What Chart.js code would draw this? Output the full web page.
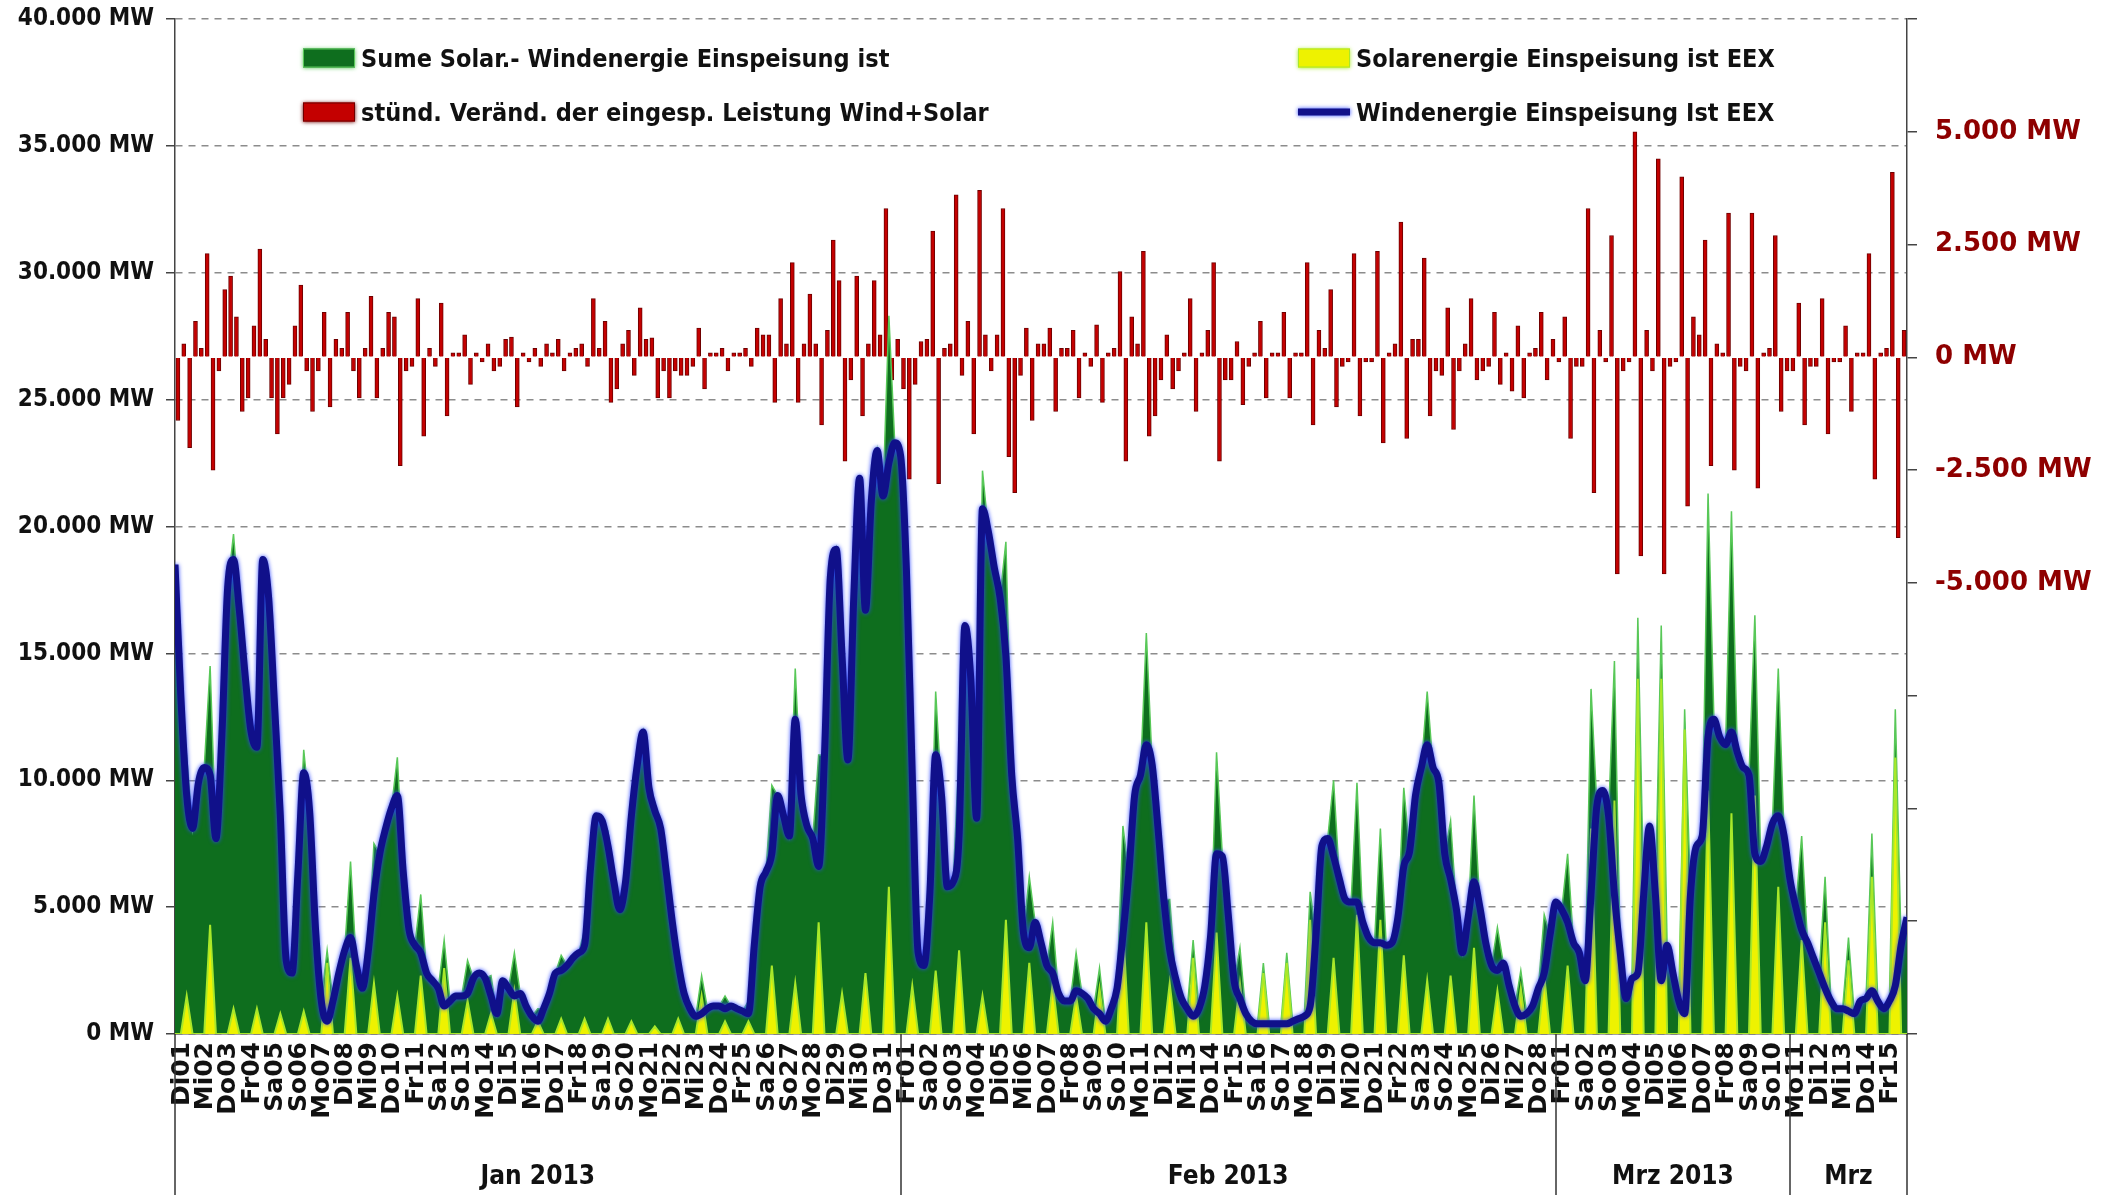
<!DOCTYPE html>
<html lang="de">
<head>
<meta charset="utf-8">
<title>Wind- und Solareinspeisung Jan - Mrz 2013</title>
<script src="https://cdn.jsdelivr.net/npm/chart.js@4.4.0/dist/chart.umd.min.js"></script>
<style>
  html, body { margin: 0; padding: 0; background: #fff; }
  #wrap { position: relative; width: 2114px; height: 1195px; }
  #chart { display: block; }
  .legend-item {
    position: absolute;
    display: flex;
    align-items: center;
    transform: translateY(-50%);
    font: bold 25px "Liberation Sans Narrow", "DejaVu Sans Condensed", "Liberation Sans", sans-serif;
    color: #111;
    white-space: nowrap;
  }
  .legend-box { width: 52px; height: 19px; margin-right: 6px; box-sizing: border-box; }
</style>
</head>
<body>
<div id="wrap">
  <canvas id="chart" width="2114" height="1195"></canvas>
</div>
<script>
// Day labels (x axis), 01.01.2013 - 15.03.2013
const dayLabels = [
    'Di01','Mi02','Do03','Fr04','Sa05','So06','Mo07','Di08','Mi09','Do10','Fr11','Sa12','So13','Mo14','Di15','Mi16',
    'Do17','Fr18','Sa19','So20','Mo21','Di22','Mi23','Do24','Fr25','Sa26','So27','Mo28','Di29','Mi30','Do31',
    'Fr01','Sa02','So03','Mo04','Di05','Mi06','Do07','Fr08','Sa09','So10','Mo11','Di12','Mi13','Do14','Fr15','Sa16',
    'So17','Mo18','Di19','Mi20','Do21','Fr22','Sa23','So24','Mo25','Di26','Mi27','Do28',
    'Fr01','Sa02','So03','Mo04','Di05','Mi06','Do07','Fr08','Sa09','So10','Mo11','Di12','Mi13','Do14','Fr15'
];
const monthLabels = ['Jan 2013', 'Feb 2013', 'Mrz 2013', 'Mrz'];
const monthBounds = [0, 31, 59, 69, 74];   // in days

// Wind feed-in, MW, every 6 hours (00, 06, 12, 18 h) + end point
const windMW = [
    18500,13300,9400,8100,  9900,10500,10200,7700,  11700,17600,18700,16700,  14100,11900,11300,18700,
    17200,13000,8600,2900,  2400,6300,10300,8800,   4200,1300,500,1300,       2400,3300,3800,2700,
    1800,3200,5500,7100,    8100,8900,9400,6400,    4100,3500,3200,2400,      2100,1800,1100,1300,
    1500,1500,1600,2200,    2400,2200,1500,800,     2100,1800,1500,1600,      1100,700,500,1000,
    1600,2400,2500,2700,    3000,3200,3500,6500,    8600,8400,7400,6000,      4900,6000,8600,10600,
    11900,9700,8800,8100,   6300,4400,2800,1600,    1000,700,800,1000,        1100,1100,1000,1100,
    1000,900,800,3500,      5800,6400,7100,9400,    8600,7800,12400,9400,     8200,7700,6600,11000,
    18000,19100,14900,10800, 17200,21900,16700,21000, 23000,21200,22500,23300, 22800,18300,10200,3200,
    2700,5500,11000,9400,   5800,6000,7800,16100,   14000,8500,20700,19800,   18400,17200,14900,10200,
    7700,4000,3400,4400,    3600,2700,2400,1600,    1300,1300,1700,1600,      1400,1000,800,500,
    1000,1800,3900,6300,    9400,10200,11400,10600, 8100,5300,3300,2200,      1400,1000,700,1000,
    1900,3900,7100,7000,    4700,2100,1400,800,     500,400,400,400,          400,400,400,500,
    600,700,1100,3900,      7400,7700,7000,6100,    5300,5200,5200,4400,      3800,3600,3600,3500,
    3600,4600,6600,7200,    9400,10500,11400,10500, 9900,7100,6100,4900,      3200,4600,6000,5000,
    3600,2700,2500,2800,    1900,1100,700,800,      1100,1800,2400,3900,      5200,4900,4400,3600,
    3200,2100,5500,9000,    9600,8600,5500,3200,    1400,2200,2400,5500,      8200,5500,2100,3500,
    2400,1300,800,5500,     7400,7800,11700,12400,  11700,11400,11900,11100,  10500,10200,7100,6800,
    7400,8300,8600,7800,    6100,5000,4100,3600,    3000,2400,1800,1300,      1000,1000,900,800,
    1300,1400,1700,1300,    1000,1300,1900,3500,
    4600
];

// Solar feed-in at midday peak, MW, one value per day
const solarNoonMW = [
    1500,4300,1000,1000,800,900,2800,3000,2000,1500,
    2300,2600,1300,800,1700,500,600,600,600,500,
    300,600,1500,500,500,2700,2000,4400,1600,2400,
    5800,1900,2500,3300,1500,4500,2800,2000,1500,1800,
    4300,4400,2000,3000,4000,2000,2400,2800,4500,3000,
    4700,4500,3100,2100,2300,3400,1700,1800,2300,2700,
    8100,9200,14000,14000,12000,9600,8700,9400,5800,3700,
    4400,2900,6200,10900
];

// Hourly change wind+solar, MW, sampled at 03, 09, 15, 21 h of each day
const changeMW = [
    -1400,300,-2000,800,   200,2300,-2500,-300,   1500,1800,900,-1200,   -900,700,2400,400,
    -900,-1700,-900,-600,  700,1600,-300,-1200,   -300,1000,-1100,400,   200,1000,-300,-900,
    200,1350,-900,200,     1000,900,-2400,-300,   -200,1300,-1750,200,   -200,1200,-1300,100,
    100,500,-600,100,      -100,300,-300,-200,    400,450,-1100,100,     -100,200,-200,300,
    100,400,-300,100,      200,300,-200,1300,     200,800,-1000,-700,    300,600,-400,1100,
    400,430,-900,-300,     -900,-300,-400,-400,   -200,650,-700,100,     100,200,-300,100,
    100,200,-200,650,      500,500,-1000,1300,    300,2100,-1000,300,    1400,300,-1500,600,
    2600,1700,-2300,-500,  1800,-1300,300,1700,   500,3300,-500,400,     -700,-2700,-600,350,
    400,2800,-2800,200,    300,3600,-400,800,     -1700,3700,500,-300,   500,3300,-2200,-3000,
    -400,650,-1400,300,    300,650,-1200,200,     200,600,-900,100,      -200,720,-1000,100,
    200,1900,-2300,900,    300,2350,-1750,-1300,  -500,500,-700,-300,    100,1300,-1200,100,
    600,2100,-2300,-500,   -500,350,-1050,-200,   100,800,-900,100,      100,1000,-900,100,
    100,2100,-1500,600,    200,1500,-1100,-200,   -100,2300,-1300,-100,  -100,2350,-1900,100,
    300,3000,-1800,400,    400,2200,-1300,-300,   -400,1100,-1600,-300,  300,1300,-500,-300,
    -200,1000,-600,100,    -750,700,-900,100,     200,1000,-500,400,     -100,900,-1800,-200,
    -200,3300,-3000,600,   -100,2700,-4800,-300,  -100,5000,-4400,600,   -300,4400,-4800,-200,
    -100,4000,-3300,900,   500,2600,-2400,300,    100,3200,-2500,-200,   -300,3200,-2900,100,
    200,2700,-1200,-300,   -300,1200,-1500,-200,  -200,1300,-1700,-100,  -100,700,-1200,100,
    100,2300,-2700,100,    200,4100,-4000,600
];

const STEPS_PER_DAY = 4;
const narrowFont = '"Liberation Sans Narrow", "DejaVu Sans Condensed", "Liberation Sans", sans-serif';

function formatMW(v) {
    return String(v).replace(/\B(?=(\d{3})+(?!\d))/g, '.') + ' MW';
}

// solar is zero at night: 00, 06 and 18 h, peak at 12 h
const solarMW = [];
solarNoonMW.forEach(p => solarMW.push(0, 0, p, 0));
solarMW.push(0);

const toPoints = arr => arr.map((y, i) => ({ x: i / STEPS_PER_DAY, y: y }));
const windPoints = toPoints(windMW);
const solarPoints = toPoints(solarMW);
const sumPoints = toPoints(windMW.map((w, i) => w + solarMW[i]));
const changePoints = changeMW.map((y, i) => ({ x: (i + 0.5) / STEPS_PER_DAY, y: y }));

// keep the plot top fixed, the tick labels may overhang it
function fixVerticalAxis(width) {
    return s => {
        s.width = width;
        s.paddingTop = 0;
        s.paddingBottom = 0;
    };
}

// glow around the wind line
const glowPlugin = {
    id: 'glow',
    beforeDatasetDraw(chart, args) {
        const ds = chart.data.datasets[args.index];
        if (!ds.glowColor) return;
        chart.ctx.save();
        chart.ctx.shadowColor = ds.glowColor;
        chart.ctx.shadowBlur = 4;
    },
    afterDatasetDraw(chart, args) {
        if (chart.data.datasets[args.index].glowColor) chart.ctx.restore();
    }
};

// month groups under the day labels
const monthPlugin = {
    id: 'months',
    afterDraw(chart) {
        const { ctx, chartArea } = chart;
        const x = chart.scales.x;
        ctx.save();
        ctx.strokeStyle = '#333';
        ctx.lineWidth = 1.5;
        monthBounds.forEach(b => {
            const px = Math.round(x.getPixelForValue(b));
            ctx.beginPath();
            ctx.moveTo(px, chartArea.bottom);
            ctx.lineTo(px, chart.height);
            ctx.stroke();
        });
        ctx.font = 'bold 26px ' + narrowFont;
        ctx.fillStyle = '#111';
        ctx.textAlign = 'center';
        ctx.textBaseline = 'middle';
        monthLabels.forEach((m, i) => {
            const cx = (x.getPixelForValue(monthBounds[i]) + x.getPixelForValue(monthBounds[i + 1])) / 2;
            ctx.fillText(m, cx, chart.height - 18);
        });
        ctx.restore();
    }
};

const ctx = document.getElementById('chart').getContext('2d');
const chart = new Chart(ctx, {
    type: 'line',
    data: {
        datasets: [
            {
                type: 'bar',
                label: 'stünd. Veränd. der eingesp. Leistung Wind+Solar',
                data: changePoints,
                yAxisID: 'y1',
                backgroundColor: '#c40000',
                borderColor: '#6e0000',
                borderWidth: 1,
                barThickness: 4,
                order: 5
            },
            {
                label: 'Sume Solar.- Windenergie Einspeisung ist',
                data: sumPoints,
                yAxisID: 'y',
                fill: 'origin',
                backgroundColor: '#0e6e1e',
                borderColor: '#58c858',
                borderWidth: 1.5,
                pointRadius: 0,
                order: 4
            },
            {
                label: 'Solarenergie Einspeisung ist EEX',
                data: solarPoints,
                yAxisID: 'y',
                fill: 'origin',
                backgroundColor: '#eef200',
                borderColor: '#a8e82a',
                borderWidth: 2,
                pointRadius: 0,
                order: 3
            },
            {
                label: 'Windenergie Einspeisung Ist EEX',
                data: windPoints,
                yAxisID: 'y',
                fill: false,
                borderColor: '#10108a',
                borderWidth: 7,
                pointRadius: 0,
                cubicInterpolationMode: 'monotone',
                glowColor: '#2f48ff',
                order: 2
            }
        ]
    },
    options: {
        responsive: false,
        animation: false,
        layout: { padding: { top: 19, left: 0, right: 0, bottom: 0 } },
        plugins: {
            legend: { display: false },
            tooltip: { enabled: false }
        },
        scales: {
            x: {
                type: 'linear',
                min: 0,
                max: 74,
                offset: false,
                ticks: {
                    stepSize: 1,
                    autoSkip: false,
                    minRotation: 90,
                    maxRotation: 90,
                    padding: 8,
                    labelOffset: 7,
                    color: '#111',
                    font: { family: '"DejaVu Sans", sans-serif', size: 25, weight: 'bold' },
                    callback: v => dayLabels[v]
                },
                grid: { drawOnChartArea: false, drawTicks: false },
                border: { color: '#444', width: 1.5 },
                afterFit: s => { s.height = 161; }
            },
            y: {
                position: 'left',
                min: 0,
                max: 40000,
                ticks: {
                    stepSize: 5000,
                    padding: 12,
                    color: '#111',
                    font: { family: narrowFont, size: 24, weight: 'bold' },
                    callback: v => formatMW(v)
                },
                grid: { color: '#8c8c8c', lineWidth: 1.5, tickLength: 9, tickColor: '#444', tickBorderDash: [] },
                border: { color: '#444', width: 1.5, dash: [7, 6] },
                afterFit: fixVerticalAxis(175)
            },
            y1: {
                position: 'right',
                min: -15000,
                max: 7500,
                ticks: {
                    stepSize: 2500,
                    padding: 18,
                    color: '#8e0000',
                    font: { family: '"DejaVu Sans", sans-serif', size: 26, weight: 'bold' },
                    callback: v => (v >= -5000 && v <= 5000) ? formatMW(v) : ''
                },
                grid: { drawOnChartArea: false, tickLength: 10, tickColor: '#444', lineWidth: 1.5 },
                border: { color: '#444', width: 1.5 },
                afterFit: fixVerticalAxis(207)
            }
        }
    },
    plugins: [glowPlugin, monthPlugin]
});

// legend in two columns inside the plot, like the original
const legendSlots = [
    { dataset: 1, left: 303, top: 58 },
    { dataset: 2, left: 1298, top: 58 },
    { dataset: 0, left: 303, top: 112 },
    { dataset: 3, left: 1298, top: 112 }
];
const wrap = document.getElementById('wrap');
legendSlots.forEach(slot => {
    const ds = chart.data.datasets[slot.dataset];
    const item = document.createElement('div');
    item.className = 'legend-item';
    item.style.left = slot.left + 'px';
    item.style.top = slot.top + 'px';
    const box = document.createElement('span');
    box.className = 'legend-box';
    if (ds.fill === false) {
        box.style.height = '7px';
        box.style.background = ds.borderColor;
        box.style.boxShadow = '0 0 4px ' + ds.glowColor;
    } else {
        box.style.background = ds.backgroundColor;
        box.style.border = '1px solid ' + ds.borderColor;
        box.style.boxShadow = '0 0 4px ' + ds.borderColor;
    }
    item.appendChild(box);
    item.appendChild(document.createTextNode(ds.label));
    wrap.appendChild(item);
});
</script>
</body>
</html>
